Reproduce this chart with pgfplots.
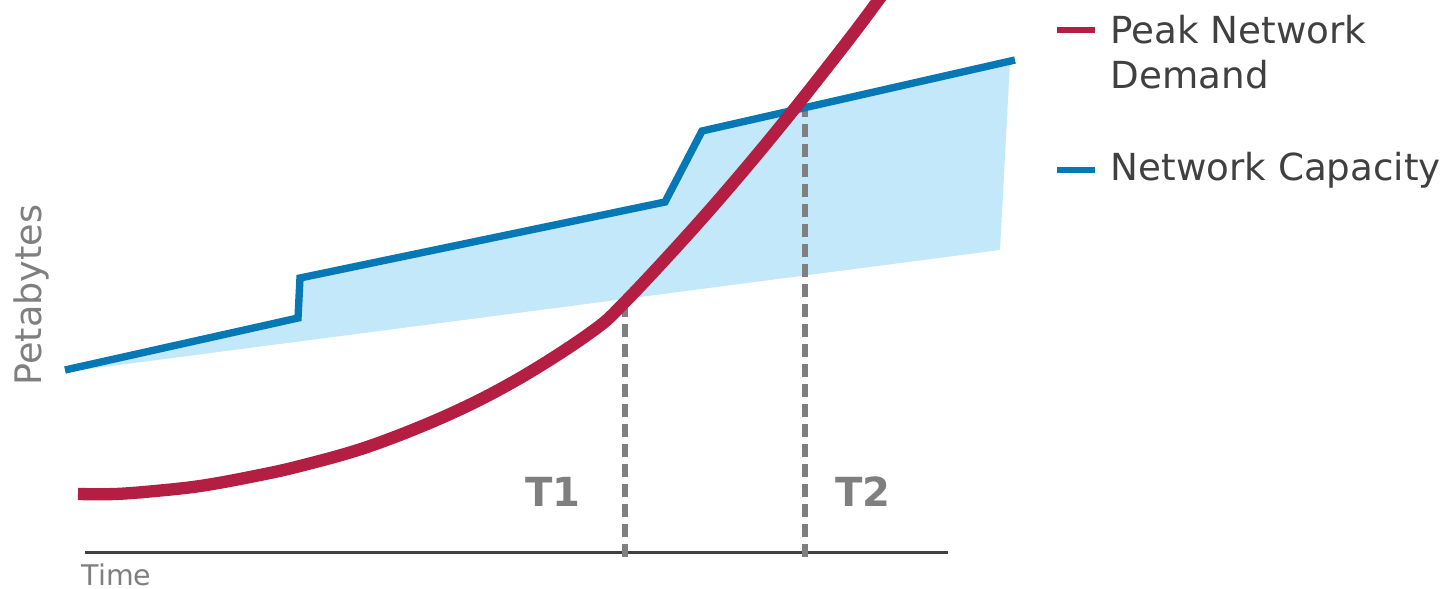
\documentclass[border=0pt]{standalone}
\usepackage{pgfplots}
\pgfplotsset{compat=1.18}
\usepackage{fontspec}
\setmainfont{DejaVu Sans}
\definecolor{demand}{HTML}{B31E42}
\definecolor{capacity}{HTML}{0578B5}
\definecolor{capfill}{HTML}{C2E8FA}
\definecolor{txtdark}{HTML}{404040}
\definecolor{txtgray}{HTML}{7F7F7F}
\begin{document}
\begin{tikzpicture}
\begin{axis}[
  scale only axis, width=14.42cm, height=5.88cm,
  xmin=0, xmax=1442, ymin=0, ymax=588, y dir=reverse,
  hide axis, clip mode=individual,
]
% capacity band
\addplot[draw=none, fill=capfill] coordinates {
  (65,372) (298,318) (300,278) (665,199) (702,131) (1010,62) (1000,250) (65,372)
};
% time axis line
\addplot[txtdark, line width=0.85pt] coordinates {(85,552) (948,552)};
% dashed markers
\addplot[txtgray, line width=1.7pt, dash pattern=on 1.3mm off 0.7mm] coordinates {(625,557) (625,305)};
\addplot[txtgray, line width=1.7pt, dash pattern=on 1.3mm off 0.7mm] coordinates {(805,557) (805,100)};
% network capacity
\addplot[capacity, line width=2.1pt, line join=miter] coordinates {
  (65,370) (298,318) (300,278) (665,202) (702,131) (1015,60)
};
% peak network demand
\addplot[demand, line width=3.5pt, smooth, tension=0.6] coordinates {
  (78,494) (115,494) (155,491) (200,486) (250,477) (300,466) (370,446)
  (450,414) (520,378) (590,333) (625,302)
  (700,221) (770,139) (840,51) (880,-2) (900,-30)
};
\node[txtgray, font=\bfseries\fontsize{11.4}{13}\selectfont] at (axis cs:553,492) {T1};
\node[txtgray, font=\bfseries\fontsize{11.4}{13}\selectfont] at (axis cs:863,492) {T2};
\node[txtgray, font=\fontsize{8.1}{10}\selectfont, anchor=base west, inner sep=0pt] at (axis cs:81,585) {Time};
\node[txtgray, font=\fontsize{10.4}{12}\selectfont, rotate=90, inner sep=0pt] at (axis cs:31,295) {Petabytes};
% legend
\draw[demand, line width=1.7pt] (axis cs:1057,30) -- (axis cs:1095,30);
\draw[capacity, line width=1.7pt] (axis cs:1057,170) -- (axis cs:1095,170);
\node[txtdark, font=\fontsize{10.6}{12.7}\selectfont, anchor=west, align=left, inner sep=0pt] at (axis cs:1110,52) {Peak Network\\Demand};
\node[txtdark, font=\fontsize{10.6}{12.7}\selectfont, anchor=west, inner sep=0pt] at (axis cs:1110,170) {Network Capacity};
\end{axis}
\pgfresetboundingbox
\path (current axis.south west) rectangle (current axis.north east);
\end{tikzpicture}
\end{document}
